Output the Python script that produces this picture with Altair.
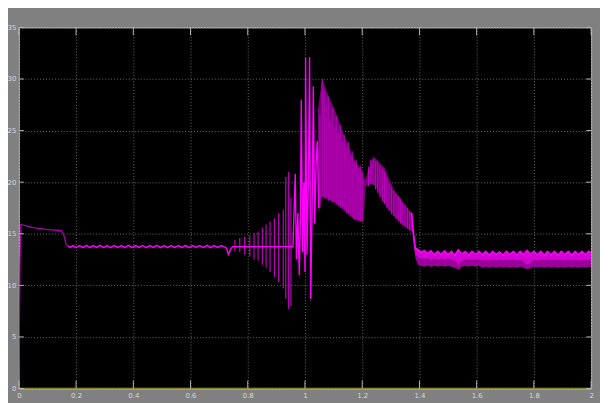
import altair as alt
import pandas as pd

# ---------------- data ----------------
x_ticks = [0, 0.2, 0.4, 0.6, 0.8, 1.0, 1.2, 1.4, 1.6, 1.8, 2.0]
y_ticks = [0, 5, 10, 15, 20, 25, 30, 35]

# start-up part (dim trace)
start_t = [0.0, 0.004, 0.007, 0.05, 0.10, 0.15, 0.158, 0.165, 0.172]
start_v = [0.0, 12.0, 15.9, 15.6, 15.4, 15.3, 14.8, 14.0, 13.8]

# steady ripple after the first step
ripple_t = [0.172, 0.18, 0.19, 0.2, 0.212, 0.224, 0.236, 0.248, 0.26, 0.272, 0.284, 0.296,
            0.308, 0.32, 0.333, 0.346, 0.358, 0.37, 0.383, 0.396, 0.408, 0.42, 0.432,
            0.445, 0.458, 0.47, 0.482, 0.495, 0.508, 0.52, 0.532, 0.545, 0.558, 0.57,
            0.582, 0.595, 0.608, 0.62, 0.632, 0.645, 0.658, 0.67, 0.682, 0.695, 0.708,
            0.72, 0.726, 0.732, 0.74, 0.748, 0.958]
ripple_v = [13.8, 13.7, 13.85, 13.65, 13.85, 13.65, 13.88, 13.66, 13.85, 13.68, 13.88, 13.65,
            13.85, 13.66, 13.86, 13.68, 13.85, 13.65, 13.88, 13.66, 13.85, 13.68, 13.86,
            13.65, 13.85, 13.68, 13.88, 13.66, 13.85, 13.65, 13.86, 13.68, 13.85, 13.66,
            13.88, 13.65, 13.85, 13.68, 13.86, 13.65, 13.88, 13.66, 13.85, 13.68, 13.85,
            13.7, 13.6, 13.0, 13.5, 13.75, 13.75]

# growing oscillation spikes before the disturbance
spike_t = [0.755, 0.772, 0.789, 0.807, 0.822, 0.836, 0.851, 0.864, 0.878, 0.893,
           0.908, 0.924, 0.933, 0.943, 0.951]
spike_hi = [14.4, 14.6, 14.7, 14.8, 15.1, 15.2, 15.6, 15.9, 16.2, 16.5,
            17.0, 17.3, 20.5, 21.0, 18.5]
spike_lo = [13.3, 13.2, 13.0, 12.8, 12.5, 12.4, 12.0, 11.7, 11.3, 10.8,
            10.3, 9.7, 8.7, 7.7, 8.0]

# large transient around t = 1 s
big_t = [0.958, 0.966, 0.97, 0.975, 0.98, 0.984, 0.987, 0.992, 0.996, 1.0, 1.002,
         1.007, 1.012, 1.016, 1.02, 1.025, 1.029, 1.034, 1.039, 1.043, 1.048]
big_v = [13.8, 20.8, 12.5, 17.0, 11.0, 16.5, 28.0, 13.2, 20.0, 11.3, 32.1,
         13.0, 20.5, 32.1, 8.7, 17.5, 29.3, 16.0, 22.0, 24.0, 17.5]

# dense oscillating band 1.05 .. 1.38 s (envelope)
band_t = [1.045, 1.06, 1.083, 1.106, 1.14, 1.174, 1.2, 1.205, 1.212, 1.23, 1.244,
          1.278, 1.312, 1.347, 1.37, 1.378]
band_hi = [27.0, 30.0, 28.3, 26.9, 24.3, 22.1, 21.0, 20.4, 20.3, 22.0, 22.4,
           21.4, 19.2, 17.9, 17.1, 17.0]
band_lo = [17.0, 18.6, 18.3, 18.0, 17.3, 16.3, 16.2, 16.4, 19.6, 19.9, 19.7,
           17.9, 16.7, 15.7, 15.3, 15.3]

# bright vertical streaks inside the band
streak_t = [1.052, 1.06, 1.067, 1.074, 1.081, 1.088, 1.095, 1.102, 1.109, 1.116, 1.123,
            1.13, 1.137, 1.144, 1.151, 1.158, 1.165, 1.172, 1.179, 1.186, 1.193, 1.2,
            1.222, 1.23, 1.238, 1.246, 1.254, 1.262, 1.27, 1.278, 1.286, 1.294, 1.302,
            1.31, 1.318, 1.326, 1.334, 1.342, 1.35, 1.358, 1.366, 1.374]
streak_hi = [26.5, 30.0, 28.8, 27.5, 28.3, 26.0, 27.2, 25.4, 26.4, 24.8, 25.6,
             24.0, 24.6, 23.4, 23.9, 22.6, 23.0, 22.0, 22.2, 21.4, 21.6, 21.0,
             21.5, 22.2, 22.4, 22.0, 21.9, 21.6, 21.3, 21.0, 20.4, 19.9, 19.5,
             19.2, 18.9, 18.7, 18.4, 18.0, 17.8, 17.5, 17.2, 17.0]
streak_lo = [17.5, 18.6, 18.4, 18.5, 18.2, 18.3, 18.0, 18.1, 17.8, 17.7, 17.5,
             17.4, 17.2, 17.0, 16.9, 16.7, 16.6, 16.4, 16.4, 16.3, 16.2, 16.2,
             19.6, 19.8, 19.7, 19.3, 18.9, 18.5, 18.1, 17.9, 17.5, 17.2, 16.9,
             16.7, 16.4, 16.2, 16.0, 15.8, 15.7, 15.5, 15.3, 15.3]

# settled band after t = 1.38 s
tail_t = [1.372, 1.38, 1.386, 1.395, 1.405, 1.417, 1.428, 1.44, 1.452, 1.464, 1.476,
          1.488, 1.5, 1.512, 1.524, 1.536, 1.548, 1.56, 1.572, 1.584, 1.596, 1.608,
          1.62, 1.632, 1.644, 1.656, 1.668, 1.68, 1.692, 1.704, 1.716, 1.728, 1.74,
          1.752, 1.764, 1.776, 1.788, 1.8, 1.812, 1.824, 1.836, 1.848, 1.86, 1.872,
          1.884, 1.896, 1.908, 1.92, 1.932, 1.944, 1.956, 1.968, 1.98, 1.992, 2.0]
tail_hi = [17.0, 15.0, 13.6, 13.5, 13.2, 13.4, 13.1, 13.35, 13.0, 13.3, 13.0,
           13.35, 13.0, 13.3, 12.95, 13.45, 13.05, 13.3, 12.95, 13.3, 13.0, 13.3,
           13.0, 13.3, 12.95, 13.3, 13.0, 13.25, 12.95, 13.3, 13.0, 13.3, 12.95,
           13.3, 13.0, 13.4, 13.05, 13.3, 13.0, 13.3, 12.95, 13.3, 13.0, 13.3,
           12.95, 13.3, 13.0, 13.3, 12.95, 13.3, 13.0, 13.3, 13.0, 13.3, 13.1]
tail_lo = [16.0, 14.0, 12.6, 12.0, 11.9, 11.8, 11.9, 11.8, 11.9, 11.8, 11.9,
           11.8, 11.9, 11.8, 11.7, 11.5, 11.8, 11.9, 11.8, 11.9, 11.8, 11.9,
           11.7, 11.8, 11.7, 11.8, 11.7, 11.8, 11.7, 11.8, 11.7, 11.8, 11.7,
           11.8, 11.7, 11.55, 11.65, 11.8, 11.7, 11.8, 11.7, 11.8, 11.7, 11.8,
           11.7, 11.8, 11.7, 11.8, 11.7, 11.8, 11.7, 11.8, 11.7, 11.8, 11.8]

# upper, brighter part of the settled band
tail_mid = [16.0, 14.0, 13.0, 12.7, 12.6, 12.6, 12.6, 12.5, 12.6, 12.5, 12.6,
            12.5, 12.6, 12.5, 12.4, 12.0, 12.4, 12.5, 12.5, 12.5, 12.5, 12.5,
            12.4, 12.5, 12.4, 12.5, 12.4, 12.5, 12.4, 12.5, 12.4, 12.5, 12.4,
            12.5, 12.3, 12.0, 12.2, 12.5, 12.4, 12.5, 12.4, 12.5, 12.4, 12.5,
            12.4, 12.5, 12.4, 12.5, 12.4, 12.5, 12.4, 12.5, 12.4, 12.5, 12.5]

# second (yellow) scope channel sitting at zero
zero_t = [0.0, 2.0]
zero_v = [0.0, 0.0]

# ---------------- tables ----------------
W, H = 580, 366
xs = alt.Scale(domain=[0, 2], nice=False, zero=False)
ys = alt.Scale(domain=[0, 35], nice=False)

X = alt.X("t:Q", scale=xs,
          axis=alt.Axis(values=x_ticks, format="~g", title=None))
Y = alt.Y("v:Q", scale=ys,
          axis=alt.Axis(values=y_ticks, format="~g", title=None))

df_start = pd.DataFrame({"t": start_t, "v": start_v})
seg1 = pd.DataFrame({"t": ripple_t + big_t, "v": ripple_v + big_v, "s": "a"})
seg2 = pd.DataFrame({"t": tail_t, "v": tail_hi, "s": "b"})
df_main = pd.concat([seg1, seg2], ignore_index=True)
df_spike = pd.DataFrame({"t": spike_t, "v": spike_hi, "v2": spike_lo})
df_band = pd.DataFrame({"t": band_t, "v": band_hi, "v2": band_lo})
df_streak = pd.DataFrame({"t": streak_t, "v": streak_hi, "v2": streak_lo})
df_tail = pd.DataFrame({"t": tail_t, "v": tail_hi, "v2": tail_lo})
df_tail_top = pd.DataFrame({"t": tail_t, "v": tail_hi, "v2": tail_mid})
df_zero = pd.DataFrame({"t": zero_t, "v": zero_v})
df_xt = pd.DataFrame({"t": x_ticks})
df_yt = pd.DataFrame({"v": y_ticks})

zero_line = alt.Chart(df_zero).mark_line(color="#a8a800", strokeWidth=1.5, clip=True).encode(x=X, y=Y)

band_area = alt.Chart(df_band).mark_area(color="#780078", clip=True).encode(
    x=X, y=Y, y2="v2:Q")
tail_area = alt.Chart(df_tail).mark_area(color="#9a009a", clip=True).encode(
    x=X, y=Y, y2="v2:Q")
tail_top = alt.Chart(df_tail_top).mark_area(color="#d400d4", clip=True).encode(
    x=X, y=Y, y2="v2:Q")

streaks = alt.Chart(df_streak).mark_rule(color="#c000c0", strokeWidth=1.1, clip=True).encode(
    x=X, y=Y, y2="v2:Q")
spikes = alt.Chart(df_spike).mark_rule(color="#c000c0", strokeWidth=1.2, clip=True).encode(
    x=X, y=Y, y2="v2:Q")

start_line = alt.Chart(df_start).mark_line(color="#b000b0", strokeWidth=1.2, clip=True).encode(
    x=X, y=Y)
main_line = alt.Chart(df_main).mark_line(color="#ff00ff", strokeWidth=1.4, clip=True).encode(
    x=X, y=Y, detail="s:N", order="t:Q")

tick_col = "#b8b8b8"
xt_bottom = alt.Chart(df_xt).mark_rule(color=tick_col).encode(
    x=alt.X("t:Q", scale=xs), y=alt.value(H), y2=alt.value(H - 8))
xt_top = alt.Chart(df_xt).mark_rule(color=tick_col).encode(
    x=alt.X("t:Q", scale=xs), y=alt.value(0), y2=alt.value(8))
yt_left = alt.Chart(df_yt).mark_rule(color=tick_col).encode(
    y=alt.Y("v:Q", scale=ys), x=alt.value(0), x2=alt.value(5))
yt_right = alt.Chart(df_yt).mark_rule(color=tick_col).encode(
    y=alt.Y("v:Q", scale=ys), x=alt.value(W), x2=alt.value(W - 5))

chart = alt.layer(
    band_area, tail_area, tail_top, streaks, spikes, start_line, main_line,
    zero_line, xt_bottom, xt_top, yt_left, yt_right,
).properties(
    width=W, height=H,
    autosize=alt.AutoSizeParams(type="none"),
    padding={"left": 11, "top": 17, "right": 9, "bottom": 12},
    background="#808080",
).configure_view(
    fill="#000000", stroke="#c8c8c8", strokeWidth=1,
).configure_axis(
    domain=False, ticks=False, grid=True,
    gridColor="#6e6e6e", gridDash=[1, 2], gridWidth=1, gridOpacity=1,
    labelColor="#d8d8d8", labelFontSize=7, labelFont="DejaVu Sans",
    labelFlush=False, labelPadding=3,
)

chart.save("out.html", embed_options={"renderer": "svg", "actions": False})
